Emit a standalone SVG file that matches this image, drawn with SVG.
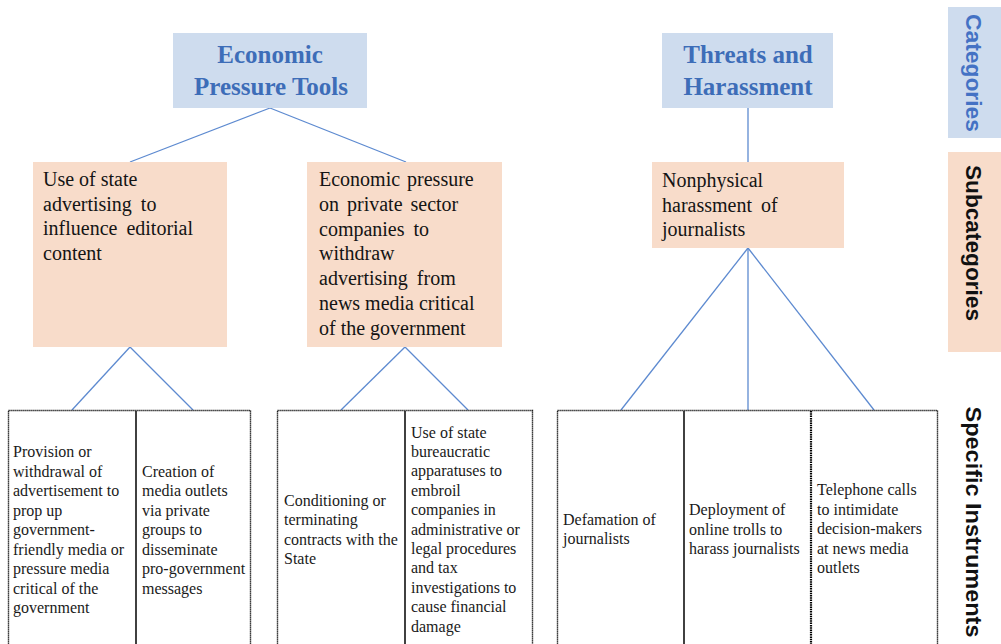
<svg xmlns="http://www.w3.org/2000/svg" width="1001" height="644" viewBox="0 0 1001 644">
  <style>
    .cat { fill: #cedcee; }
    .sub { fill: #f8dcca; }
    .cat-title { font-family: "Liberation Serif", serif; font-weight: bold; font-size: 25px; fill: #3d6db8; text-anchor: middle; }
    .sub-text { font-family: "Liberation Serif", serif; font-size: 20px; fill: #141414; }
    .cell-text { font-family: "Liberation Serif", serif; font-size: 16px; fill: #1a1a1a; }
    .frame { fill: #ffffff; stroke: #000; stroke-width: 1.4; stroke-dasharray: 1.2 0.8; }
    .divider { stroke: #111; stroke-width: 1.6; }
    .divider-dot { stroke: #000; stroke-width: 2.2; stroke-dasharray: 1.5 0.8; }
    .link { stroke: #5d8ad0; stroke-width: 1.3; fill: none; }
    .side { font-family: "Liberation Sans", sans-serif; font-weight: bold; font-size: 22px; text-anchor: middle; }
  </style>

  <rect width="1001" height="644" fill="#ffffff"/>

  <!-- connectors -->
  <g id="connectors">
    <line class="link" x1="270" y1="108" x2="130" y2="162"/>
    <line class="link" x1="270" y1="108" x2="406" y2="162"/>
    <line class="link" x1="748" y1="108" x2="748" y2="162"/>
    <line class="link" x1="130" y1="347" x2="72" y2="410"/>
    <line class="link" x1="130" y1="347" x2="193" y2="410"/>
    <line class="link" x1="405" y1="347" x2="341" y2="410"/>
    <line class="link" x1="405" y1="347" x2="468" y2="410"/>
    <line class="link" x1="748" y1="248" x2="621" y2="410"/>
    <line class="link" x1="748" y1="248" x2="748" y2="410"/>
    <line class="link" x1="748" y1="248" x2="874" y2="410"/>
  </g>

  <!-- categories -->
  <g id="cat-economic">
    <rect class="cat" x="173" y="33" width="194" height="75"/>
    <text class="cat-title" x="270" y="63">Economic</text>
    <text class="cat-title" x="271" y="95">Pressure Tools</text>
  </g>
  <g id="cat-threats">
    <rect class="cat" x="662" y="33" width="171" height="75"/>
    <text class="cat-title" x="748" y="63">Threats and</text>
    <text class="cat-title" x="748" y="95">Harassment</text>
  </g>

  <!-- subcategories -->
  <g id="sub-state-advertising">
    <rect class="sub" x="33" y="162" width="194" height="185"/>
    <text class="sub-text">
      <tspan x="43" y="186">Use of state</tspan>
      <tspan x="43" y="210.7" word-spacing="4">advertising to</tspan>
      <tspan x="43" y="235.4" word-spacing="4">influence editorial</tspan>
      <tspan x="43" y="260.1">content</tspan>
    </text>
  </g>
  <g id="sub-private-sector">
    <rect class="sub" x="307" y="162" width="195" height="185"/>
    <text class="sub-text">
      <tspan x="319" y="186" word-spacing="2">Economic pressure</tspan>
      <tspan x="319" y="210.8" word-spacing="3">on private sector</tspan>
      <tspan x="319" y="235.6" word-spacing="4">companies to</tspan>
      <tspan x="319" y="260.4">withdraw</tspan>
      <tspan x="319" y="285.2" word-spacing="4">advertising from</tspan>
      <tspan x="319" y="310">news media critical</tspan>
      <tspan x="319" y="334.8">of the government</tspan>
    </text>
  </g>
  <g id="sub-nonphysical">
    <rect class="sub" x="652" y="162" width="192" height="86"/>
    <text class="sub-text">
      <tspan x="662" y="187">Nonphysical</tspan>
      <tspan x="662" y="211.7" word-spacing="4">harassment of</tspan>
      <tspan x="662" y="236.4">journalists</tspan>
    </text>
  </g>

  <!-- instruments: economic / state advertising -->
  <g id="inst-table-1">
    <rect class="frame" x="8.5" y="410.5" width="242" height="250"/>
    <line class="divider" x1="136" y1="411" x2="136" y2="644"/>
  </g>
  <g id="inst-provision">
    <text class="cell-text">
      <tspan x="13" y="457">Provision or</tspan>
      <tspan x="13" y="476.5">withdrawal of</tspan>
      <tspan x="13" y="496">advertisement to</tspan>
      <tspan x="13" y="515.5">prop up</tspan>
      <tspan x="13" y="535">government-</tspan>
      <tspan x="13" y="554.5">friendly media or</tspan>
      <tspan x="13" y="574">pressure media</tspan>
      <tspan x="13" y="593.5">critical of the</tspan>
      <tspan x="13" y="613">government</tspan>
    </text>
  </g>
  <g id="inst-creation">
    <text class="cell-text">
      <tspan x="142" y="476.5">Creation of</tspan>
      <tspan x="142" y="496">media outlets</tspan>
      <tspan x="142" y="515.5">via private</tspan>
      <tspan x="142" y="535">groups to</tspan>
      <tspan x="142" y="554.5">disseminate</tspan>
      <tspan x="142" y="574">pro-government</tspan>
      <tspan x="142" y="593.5">messages</tspan>
    </text>
  </g>

  <!-- instruments: economic / private sector -->
  <g id="inst-table-2">
    <rect class="frame" x="277.5" y="410.5" width="255" height="250"/>
    <line class="divider" x1="405" y1="411" x2="405" y2="644"/>
  </g>
  <g id="inst-contracts">
    <text class="cell-text">
      <tspan x="284" y="506">Conditioning or</tspan>
      <tspan x="284" y="525.4">terminating</tspan>
      <tspan x="284" y="544.8">contracts with the</tspan>
      <tspan x="284" y="564.2">State</tspan>
    </text>
  </g>
  <g id="inst-bureaucracy">
    <text class="cell-text">
      <tspan x="411" y="437.5">Use of state</tspan>
      <tspan x="411" y="456.9">bureaucratic</tspan>
      <tspan x="411" y="476.3">apparatuses to</tspan>
      <tspan x="411" y="495.7">embroil</tspan>
      <tspan x="411" y="515.1">companies in</tspan>
      <tspan x="411" y="534.5">administrative or</tspan>
      <tspan x="411" y="553.9">legal procedures</tspan>
      <tspan x="411" y="573.3">and tax</tspan>
      <tspan x="411" y="592.7">investigations to</tspan>
      <tspan x="411" y="612.1">cause financial</tspan>
      <tspan x="411" y="631.5">damage</tspan>
    </text>
  </g>

  <!-- instruments: threats / nonphysical harassment -->
  <g id="inst-table-3">
    <rect class="frame" x="557.5" y="410.5" width="380" height="250"/>
    <line class="divider" x1="684" y1="411" x2="684" y2="644"/>
    <line class="divider-dot" x1="811" y1="411" x2="811" y2="644"/>
  </g>
  <g id="inst-defamation">
    <text class="cell-text">
      <tspan x="563" y="524.5">Defamation of</tspan>
      <tspan x="563" y="544">journalists</tspan>
    </text>
  </g>
  <g id="inst-trolls">
    <text class="cell-text">
      <tspan x="689" y="515">Deployment of</tspan>
      <tspan x="689" y="534.5">online trolls to</tspan>
      <tspan x="689" y="554">harass journalists</tspan>
    </text>
  </g>
  <g id="inst-telephone">
    <text class="cell-text">
      <tspan x="817" y="495">Telephone calls</tspan>
      <tspan x="817" y="514.5">to intimidate</tspan>
      <tspan x="817" y="534">decision-makers</tspan>
      <tspan x="817" y="553.5">at news media</tspan>
      <tspan x="817" y="573">outlets</tspan>
    </text>
  </g>

  <!-- level labels on the right edge -->
  <g id="label-categories">
    <rect class="cat" x="948" y="7" width="53" height="131"/>
    <text class="side" fill="#4472c4" transform="translate(966 73) rotate(90)" textLength="118" lengthAdjust="spacingAndGlyphs">Categories</text>
  </g>
  <g id="label-subcategories">
    <rect class="sub" x="948" y="152" width="53" height="200"/>
    <text class="side" fill="#111" transform="translate(966 243) rotate(90)" textLength="156" lengthAdjust="spacingAndGlyphs">Subcategories</text>
  </g>
  <g id="label-instruments">
    <text class="side" fill="#111" transform="translate(966 522) rotate(90)" textLength="231" lengthAdjust="spacingAndGlyphs">Specific Instruments</text>
  </g>
</svg>
